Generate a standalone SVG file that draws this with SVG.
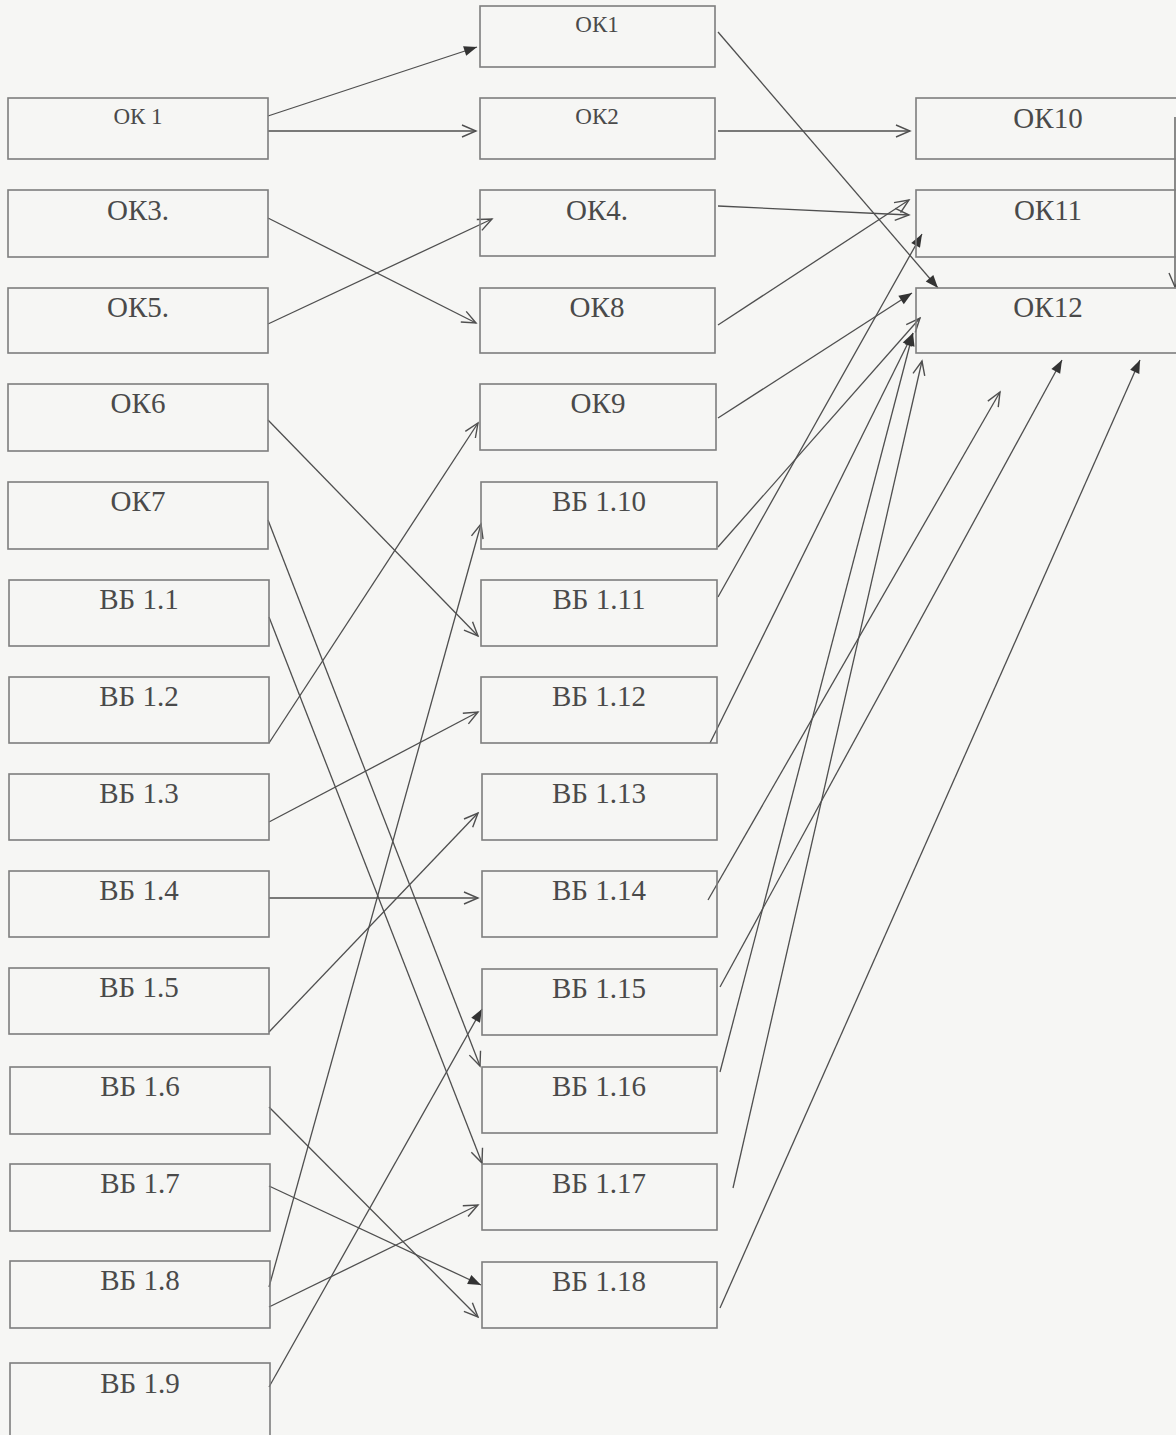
<svg xmlns="http://www.w3.org/2000/svg" width="1176" height="1435" viewBox="0 0 1176 1435">
<style>
.box{fill:none;stroke:#7e7e7e;stroke-width:1.6}
.lbl{font-family:"Liberation Serif","Times New Roman",serif;font-size:29px;fill:#4a4a4a;text-anchor:middle}
.sm{font-size:23px}
.c{fill:none;stroke:#4f4f4f;stroke-width:1.3}
.o{marker-end:url(#open)}
.f{marker-end:url(#fill)}
</style>
<defs>
<marker id="open" viewBox="-16 -8 18 16" refX="0" refY="0" markerWidth="18" markerHeight="16" orient="auto" markerUnits="userSpaceOnUse">
<path d="M-14,-6 L0,0 L-14,6" fill="none" stroke="#4f4f4f" stroke-width="1.4"/>
</marker>
<marker id="fill" viewBox="-16 -8 18 16" refX="0" refY="0" markerWidth="18" markerHeight="16" orient="auto" markerUnits="userSpaceOnUse">
<path d="M-13,-5 L0,0 L-13,5 Z" fill="#333"/>
</marker>
</defs>
<rect x="0" y="0" width="1176" height="1435" fill="#f6f6f4"/>

<g id="connectors">
<path class="c f" d="M268,116 L477,47"/>
<path class="c o" d="M268,131 L476,131"/>
<path class="c o" d="M268,218 L476,323"/>
<path class="c o" d="M268,324 L492,219"/>
<path class="c o" d="M268,420 L478,636"/>
<path class="c o" d="M268,520 L480,1066"/>
<path class="c o" d="M269,617 L482,1163"/>
<path class="c o" d="M269,743 L478,423"/>
<path class="c o" d="M269,822 L478,712"/>
<path class="c o" d="M269,898 L478,898"/>
<path class="c o" d="M269,1032 L478,813"/>
<path class="c o" d="M269,1107 L478,1317"/>
<path class="c f" d="M269,1186 L481,1285"/>
<path class="c o" d="M269,1287 L481,524"/>
<path class="c o" d="M269,1307 L478,1205"/>
<path class="c f" d="M269,1387 L482,1009"/>
<path class="c f" d="M718,32 L938,288"/>
<path class="c o" d="M718,131 L910,131"/>
<path class="c o" d="M718,206 L909,215"/>
<path class="c o" d="M718,325 L909,200"/>
<path class="c f" d="M718,418 L912,293"/>
<path class="c o" d="M718,547 L920,318"/>
<path class="c f" d="M718,597 L922,234"/>
<path class="c f" d="M710,743 L913,333"/>
<path class="c o" d="M708,900 L1000,392"/>
<path class="c f" d="M720,987 L1062,360"/>
<path class="c f" d="M720,1072 L913,333"/>
<path class="c o" d="M733,1188 L922,361"/>
<path class="c f" d="M720,1308 L1140,360"/>
<path class="c o" d="M1175,117 L1175,287"/>
</g>

<g id="n-ok1-left"><rect class="box" x="8" y="98" width="260" height="61"/><text class="lbl sm" x="138" y="124">ОК 1</text></g>
<g id="n-ok3"><rect class="box" x="8" y="190" width="260" height="67"/><text class="lbl" x="138" y="220">ОК3.</text></g>
<g id="n-ok5"><rect class="box" x="8" y="288" width="260" height="65"/><text class="lbl" x="138" y="317">ОК5.</text></g>
<g id="n-ok6"><rect class="box" x="8" y="384" width="260" height="67"/><text class="lbl" x="138" y="413">ОК6</text></g>
<g id="n-ok7"><rect class="box" x="8" y="482" width="260" height="67"/><text class="lbl" x="138" y="511">ОК7</text></g>
<g id="n-vb11"><rect class="box" x="9" y="580" width="260" height="66"/><text class="lbl" x="139" y="609">ВБ 1.1</text></g>
<g id="n-vb12"><rect class="box" x="9" y="677" width="260" height="66"/><text class="lbl" x="139" y="706">ВБ 1.2</text></g>
<g id="n-vb13"><rect class="box" x="9" y="774" width="260" height="66"/><text class="lbl" x="139" y="803">ВБ 1.3</text></g>
<g id="n-vb14"><rect class="box" x="9" y="871" width="260" height="66"/><text class="lbl" x="139" y="900">ВБ 1.4</text></g>
<g id="n-vb15"><rect class="box" x="9" y="968" width="260" height="66"/><text class="lbl" x="139" y="997">ВБ 1.5</text></g>
<g id="n-vb16"><rect class="box" x="10" y="1067" width="260" height="67"/><text class="lbl" x="140" y="1096">ВБ 1.6</text></g>
<g id="n-vb17"><rect class="box" x="10" y="1164" width="260" height="67"/><text class="lbl" x="140" y="1193">ВБ 1.7</text></g>
<g id="n-vb18"><rect class="box" x="10" y="1261" width="260" height="67"/><text class="lbl" x="140" y="1290">ВБ 1.8</text></g>
<g id="n-vb19"><rect class="box" x="10" y="1363" width="260" height="100"/><text class="lbl" x="140" y="1393">ВБ 1.9</text></g>

<g id="n-ok1-mid"><rect class="box" x="480" y="6" width="235" height="61"/><text class="lbl sm" x="597" y="32">ОК1</text></g>
<g id="n-ok2"><rect class="box" x="480" y="98" width="235" height="61"/><text class="lbl sm" x="597" y="124">ОК2</text></g>
<g id="n-ok4"><rect class="box" x="480" y="190" width="235" height="66"/><text class="lbl" x="597" y="220">ОК4.</text></g>
<g id="n-ok8"><rect class="box" x="480" y="288" width="235" height="65"/><text class="lbl" x="597" y="317">ОК8</text></g>
<g id="n-ok9"><rect class="box" x="480" y="384" width="236" height="66"/><text class="lbl" x="598" y="413">ОК9</text></g>
<g id="n-vb110"><rect class="box" x="481" y="482" width="236" height="67"/><text class="lbl" x="599" y="511">ВБ 1.10</text></g>
<g id="n-vb111"><rect class="box" x="481" y="580" width="236" height="66"/><text class="lbl" x="599" y="609">ВБ 1.11</text></g>
<g id="n-vb112"><rect class="box" x="481" y="677" width="236" height="66"/><text class="lbl" x="599" y="706">ВБ 1.12</text></g>
<g id="n-vb113"><rect class="box" x="482" y="774" width="235" height="66"/><text class="lbl" x="599" y="803">ВБ 1.13</text></g>
<g id="n-vb114"><rect class="box" x="482" y="871" width="235" height="66"/><text class="lbl" x="599" y="900">ВБ 1.14</text></g>
<g id="n-vb115"><rect class="box" x="482" y="969" width="235" height="66"/><text class="lbl" x="599" y="998">ВБ 1.15</text></g>
<g id="n-vb116"><rect class="box" x="482" y="1067" width="235" height="66"/><text class="lbl" x="599" y="1096">ВБ 1.16</text></g>
<g id="n-vb117"><rect class="box" x="482" y="1164" width="235" height="66"/><text class="lbl" x="599" y="1193">ВБ 1.17</text></g>
<g id="n-vb118"><rect class="box" x="482" y="1262" width="235" height="66"/><text class="lbl" x="599" y="1291">ВБ 1.18</text></g>

<g id="n-ok10"><rect class="box" x="916" y="98" width="264" height="61"/><text class="lbl" x="1048" y="128">ОК10</text></g>
<g id="n-ok11"><rect class="box" x="916" y="190" width="264" height="67"/><text class="lbl" x="1048" y="220">ОК11</text></g>
<g id="n-ok12"><rect class="box" x="916" y="288" width="264" height="65"/><text class="lbl" x="1048" y="317">ОК12</text></g>
</svg>
